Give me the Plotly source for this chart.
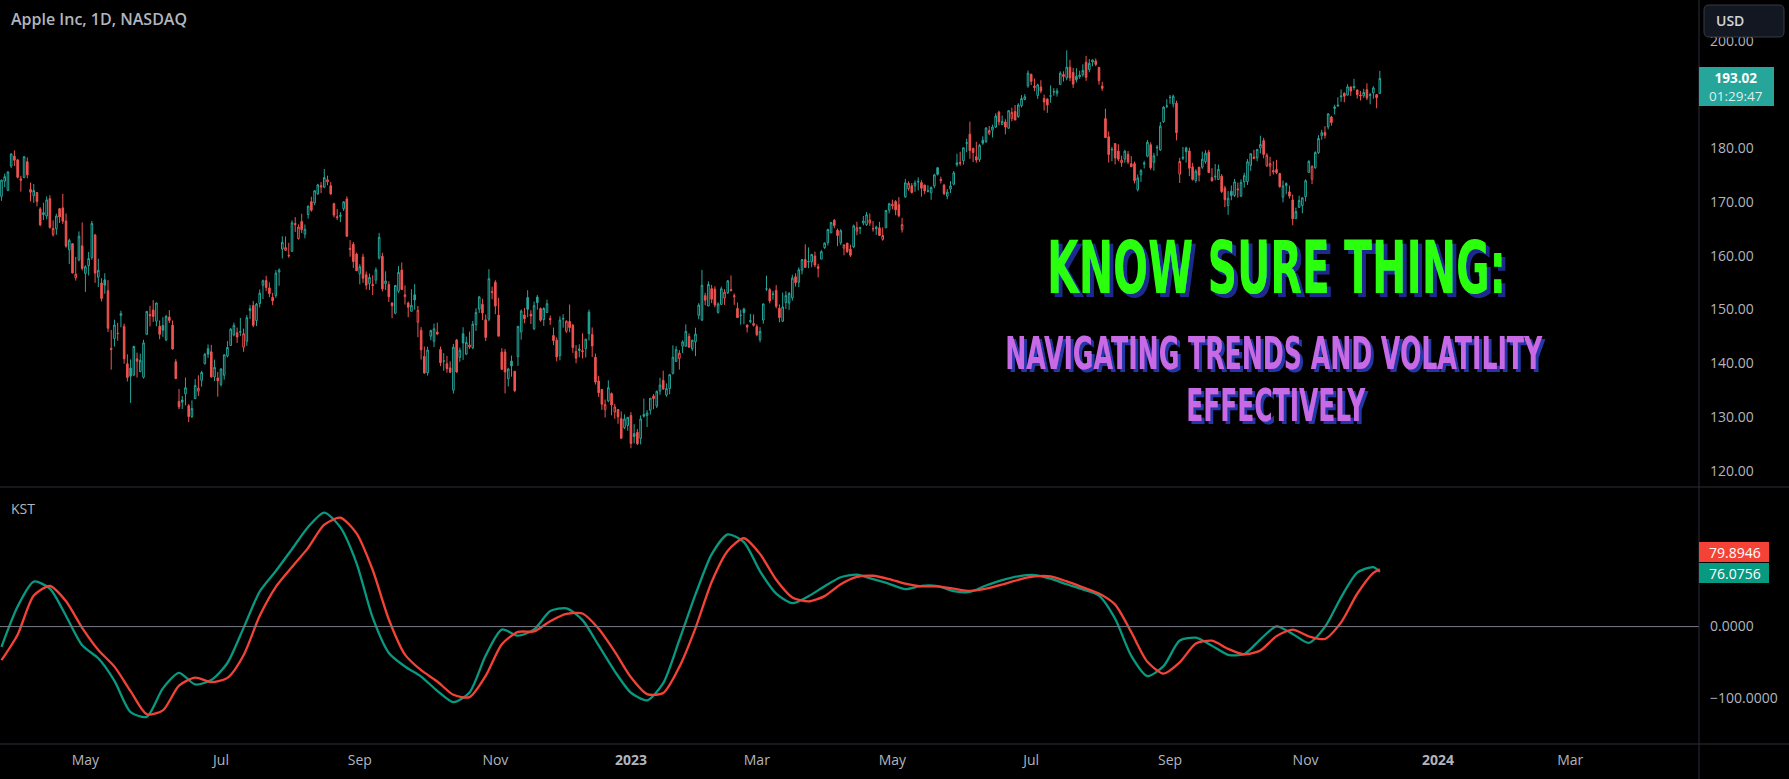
import sys
import json
import plotly.graph_objects as go
import pandas as pd

# ---------------------------------------------------------------- data
holidays = ["2022-04-15", "2022-05-30", "2022-06-20", "2022-07-04", "2022-09-05", "2022-11-24",
            "2022-12-26", "2023-01-02", "2023-01-16", "2023-02-20", "2023-04-07", "2023-05-29",
            "2023-06-19", "2023-07-04", "2023-09-04", "2023-11-23", "2023-12-25", "2024-01-01",
            "2024-01-15", "2024-02-19", "2024-03-29"]
dates = pd.bdate_range("2022-03-24", "2023-12-05", freq="C", holidays=holidays)

opens = [
    171.06, 173.88, 172.17, 176.69, 178.55, 177.84,
    174.03, 174.57, 177.50, 172.36, 171.16, 171.78, 168.71, 168.02, 167.39, 170.62, 163.92, 165.02, 168.76, 168.91, 166.46, 161.12, 162.25, 155.91, 159.25, 161.84,
    156.71, 158.15, 159.67, 163.85, 156.01, 154.93, 155.52, 153.50, 142.77, 144.59, 145.55, 148.86, 146.85, 139.88, 139.09, 137.79, 140.81, 138.43, 137.39, 145.39, 149.07,
    149.90, 147.83, 146.90, 147.03, 144.35, 148.58, 147.08, 140.28, 132.87, 133.13, 134.29, 132.08, 130.07, 133.42, 134.79, 136.82, 139.90, 142.70, 142.13, 137.46, 137.25,
    136.04, 137.77, 141.35, 143.29, 145.26, 145.67, 145.76, 142.99, 144.08, 149.78, 150.74, 147.92, 151.12, 154.50, 155.39, 154.01, 152.26, 152.58, 156.98, 161.24,
    161.01, 160.10, 160.84, 166.01, 163.21, 166.37, 164.02, 167.68, 170.06, 169.82, 171.52, 172.78, 172.77, 173.75, 173.03, 169.69, 167.08, 167.32, 168.78, 170.57, 161.15, 162.13, 160.31,
    156.64, 159.75, 156.47, 154.82, 154.64, 155.47, 159.59, 159.90, 154.79, 154.65, 151.21, 149.31, 153.40, 157.34, 152.38, 151.19, 149.66, 152.74, 147.64, 146.10, 141.28,
    138.21, 145.03, 144.07, 145.81, 142.54, 140.42, 139.90, 139.13, 134.99, 144.31, 141.07, 145.49, 141.69, 143.02, 142.87, 147.19, 150.09, 150.96, 148.07, 148.20, 153.16,
    155.08, 148.95, 142.06, 142.09, 137.11, 140.41, 138.50, 141.24, 145.82, 148.97, 152.22, 149.13, 146.43, 152.31, 150.16, 148.13, 149.45, 148.31, 145.14, 144.29, 141.40,
    148.21, 145.96, 147.77, 147.07, 142.19, 142.36, 142.34, 142.70, 149.50, 145.35, 141.11, 136.69, 135.11, 131.39, 132.98, 134.35, 130.92, 131.38, 129.67, 127.99, 128.41,
    130.28, 126.89, 127.13, 126.01, 130.47, 130.26, 131.25, 133.88, 132.03, 134.83, 136.82, 134.08, 135.28, 138.12, 140.31, 140.89, 143.17, 143.16, 144.96, 142.70,
    143.97, 148.90, 148.03, 152.57, 150.64, 153.88, 153.78, 149.46, 150.95, 152.12, 153.11, 153.51, 152.35, 150.20, 148.87, 150.09, 147.11, 147.71, 147.05,
    146.83, 144.38, 148.04, 153.79, 153.70, 152.81, 153.56, 150.21, 147.81, 151.28, 151.19, 152.16, 156.08, 155.07, 157.32, 159.30, 158.83, 158.86, 159.94, 157.97, 159.37, 161.53, 162.44,
    164.27, 166.60, 164.74, 162.43, 161.42, 162.35, 161.22, 161.63, 164.59, 165.09, 166.10, 165.80, 166.09, 165.05, 165.00, 165.19, 163.06, 165.19, 168.49,
    169.28, 170.09, 169.50, 164.89, 170.98, 172.48, 173.05, 173.02, 173.85, 173.62, 173.16, 171.99, 171.71, 173.00, 176.39, 173.98, 173.13, 171.09, 172.41, 173.32, 176.96, 177.33,
    177.70, 181.03, 182.63, 179.97, 178.44, 177.90, 181.50, 181.27, 182.80, 183.37, 183.96, 186.73, 184.41, 184.90, 183.74, 185.55, 186.83, 185.89, 187.93, 189.08, 191.63,
    193.78, 191.57, 189.84, 191.41, 189.26, 189.16, 189.68, 190.50, 190.23, 191.90, 193.35, 193.10, 195.09, 194.10, 193.41, 193.33, 193.67, 196.02, 194.67, 196.06,
    196.24, 195.04, 191.57, 185.52, 182.13, 179.69, 180.87, 179.48, 177.32, 177.97, 178.88, 177.13, 177.14, 172.30, 175.07, 177.06, 178.52, 180.67, 177.38, 180.09, 179.70, 184.94, 187.84,
    189.49, 188.28, 188.40, 175.18, 178.35, 180.07, 179.49, 176.51, 174.00, 176.48, 176.48, 177.52, 179.26, 174.55, 174.67, 174.20, 174.82, 172.62, 169.34, 172.02,
    171.22, 172.26, 171.09, 173.79, 173.80, 176.81, 178.10, 178.20, 180.07, 181.42, 176.75, 176.65, 175.58, 176.04, 175.31, 170.91, 173.05, 171.88, 170.37, 166.91, 169.02, 169.35,
    171.00, 175.52, 174.24, 176.38, 179.18, 182.35, 182.96, 183.97, 185.82, 187.70, 187.85, 189.57, 190.25, 189.89, 191.41, 191.49, 190.87, 189.92, 189.78, 190.90, 189.84,
    190.33, 189.98, 190.21,
]
highs = [
    174.14, 175.28, 175.73, 179.01, 179.61, 178.03,
    174.88, 178.49, 178.30, 173.63, 173.36, 171.78, 169.03, 169.87, 171.04, 171.27, 166.60, 167.82, 168.88, 171.53, 167.87, 163.17, 162.34, 159.79, 164.52, 166.20,
    158.23, 160.71, 166.48, 164.08, 159.44, 155.83, 156.74, 155.45, 146.20, 148.10, 147.52, 149.77, 147.36, 141.66, 140.70, 143.26, 141.97, 141.79, 144.34, 149.68, 150.66,
    151.74, 151.27, 147.97, 148.57, 149.00, 149.87, 147.95, 140.76, 135.20, 133.89, 137.34, 132.39, 133.08, 137.06, 137.76, 138.59, 141.91, 143.49, 143.42, 140.67, 138.37,
    139.04, 141.61, 144.12, 146.55, 147.55, 146.64, 148.45, 146.45, 148.95, 150.86, 151.57, 151.23, 153.72, 155.57, 156.28, 155.04, 153.09, 157.33, 157.64, 163.63,
    163.59, 162.41, 166.59, 167.19, 165.85, 167.81, 165.82, 169.34, 170.99, 172.17, 173.39, 173.71, 176.15, 174.90, 173.74, 169.86, 168.71, 168.11, 170.14, 171.05, 162.90, 162.56, 160.58,
    158.42, 160.36, 157.09, 156.67, 156.36, 157.82, 164.26, 160.54, 157.10, 155.24, 151.35, 154.56, 158.08, 158.74, 154.47, 151.47, 153.77, 154.72, 150.64, 146.72, 143.10,
    143.07, 146.22, 147.38, 147.54, 143.10, 141.89, 141.35, 140.36, 143.59, 144.52, 142.90, 146.70, 144.95, 145.89, 147.85, 150.23, 152.49, 151.99, 149.05, 157.50, 154.24,
    155.45, 152.17, 142.80, 142.67, 139.15, 141.43, 138.55, 146.87, 150.01, 150.28, 153.59, 149.87, 151.48, 152.70, 150.37, 150.42, 151.83, 148.88, 146.64, 144.81, 148.72,
    149.13, 148.00, 150.92, 147.30, 143.37, 143.52, 145.57, 144.50, 149.97, 146.66, 141.80, 137.65, 135.20, 133.25, 136.81, 134.56, 132.42, 131.41, 131.03, 130.48, 129.95,
    130.90, 128.66, 127.77, 130.29, 133.41, 131.26, 133.51, 134.26, 134.92, 137.29, 138.61, 136.25, 138.02, 143.32, 143.16, 142.43, 144.25, 147.23, 145.55, 144.34,
    146.61, 151.18, 157.38, 153.10, 155.23, 154.58, 154.33, 151.34, 154.26, 153.77, 155.50, 156.33, 153.00, 151.30, 149.95, 150.34, 147.19, 149.17, 149.08,
    147.23, 146.71, 151.11, 156.30, 154.03, 153.47, 154.54, 150.94, 153.14, 153.40, 153.25, 156.46, 156.74, 157.82, 159.40, 162.14, 161.55, 160.34, 160.77, 158.49, 161.05, 162.47, 165.00,
    166.29, 166.84, 165.05, 164.96, 162.03, 162.36, 162.06, 165.80, 166.32, 165.39, 167.41, 168.16, 167.87, 166.45, 165.60, 166.31, 165.28, 168.56, 169.85,
    170.45, 170.35, 170.92, 167.04, 174.30, 173.85, 173.54, 174.03, 174.59, 174.06, 173.21, 173.14, 172.93, 175.24, 176.39, 174.71, 173.38, 172.42, 173.90, 175.77, 178.99, 179.35,
    180.12, 181.78, 184.95, 180.12, 181.21, 180.84, 182.23, 183.89, 184.15, 184.39, 186.52, 186.99, 186.10, 185.41, 187.05, 187.56, 188.05, 188.39, 189.90, 190.07, 194.48,
    193.88, 192.98, 192.02, 192.67, 189.99, 189.30, 191.70, 191.19, 191.18, 194.32, 194.33, 198.23, 196.47, 194.97, 194.91, 194.44, 195.64, 197.20, 196.63, 196.49,
    196.73, 195.18, 192.37, 187.38, 183.13, 180.27, 180.93, 180.75, 178.62, 179.69, 179.48, 178.54, 177.51, 175.10, 176.13, 177.68, 181.55, 181.10, 179.15, 180.59, 184.90, 187.85, 189.12,
    189.92, 189.98, 188.85, 178.21, 180.24, 180.30, 180.13, 177.30, 176.10, 176.50, 179.38, 179.63, 179.70, 176.30, 177.08, 176.97, 175.20, 173.04, 172.03, 173.07,
    174.30, 173.63, 174.21, 175.45, 177.99, 179.05, 179.72, 179.85, 182.34, 181.93, 179.08, 178.42, 177.58, 177.84, 175.42, 174.01, 173.67, 173.06, 171.38, 168.96, 171.17, 170.90,
    174.23, 177.78, 176.82, 179.43, 182.44, 183.45, 184.12, 186.57, 186.03, 188.11, 189.50, 190.96, 190.38, 191.91, 191.52, 192.93, 190.90, 190.67, 191.08, 192.09, 190.32,
    191.56, 190.05, 194.40,
]
lows = [
    170.21, 172.75, 172.00, 176.34, 176.70, 174.40,
    171.94, 174.44, 174.42, 170.13, 169.85, 169.20, 165.50, 166.64, 166.77, 165.04, 163.57, 163.91, 166.10, 165.91, 161.50, 158.46, 156.72, 155.38, 158.93, 157.25,
    153.27, 156.32, 159.26, 154.95, 154.18, 151.49, 152.93, 145.81, 138.80, 143.11, 144.18, 146.68, 139.90, 136.60, 132.61, 137.65, 137.33, 138.34, 137.14, 145.26, 146.84,
    147.68, 146.86, 144.46, 144.90, 144.10, 147.46, 142.53, 137.06, 131.44, 131.48, 132.16, 129.04, 129.81, 133.32, 133.91, 135.63, 139.77, 140.97, 137.33, 136.67, 133.77,
    135.66, 136.93, 141.08, 143.28, 145.00, 143.78, 145.05, 142.12, 143.25, 148.20, 146.70, 146.91, 150.37, 151.94, 153.41, 152.28, 150.80, 152.16, 154.41, 159.50,
    160.89, 159.63, 160.75, 164.43, 163.00, 164.20, 163.25, 166.90, 168.19, 169.40, 171.35, 171.66, 172.57, 173.12, 171.31, 167.14, 166.65, 166.25, 168.35, 163.56, 159.82, 157.72, 157.14,
    154.67, 154.97, 153.69, 153.61, 152.68, 154.75, 159.30, 153.37, 153.61, 151.38, 148.37, 149.10, 153.08, 153.60, 150.91, 148.56, 149.64, 149.95, 144.84, 140.68, 138.00,
    137.69, 144.26, 143.01, 145.22, 139.45, 138.57, 138.22, 138.16, 134.37, 138.19, 140.27, 140.61, 141.50, 142.65, 142.65, 146.00, 149.36, 148.04, 144.13, 147.82, 151.92,
    149.13, 145.00, 138.75, 134.38, 135.67, 137.49, 134.59, 139.50, 144.37, 147.43, 148.56, 147.29, 146.15, 149.97, 147.72, 146.93, 149.34, 147.12, 143.38, 140.35, 140.55,
    146.61, 145.65, 145.77, 141.92, 140.00, 141.10, 140.90, 141.06, 144.24, 141.16, 136.03, 133.73, 131.32, 129.89, 132.75, 130.30, 129.64, 128.72, 125.87, 127.73, 127.43,
    124.17, 125.08, 124.76, 124.89, 129.89, 128.12, 130.46, 131.44, 131.66, 134.13, 135.03, 133.77, 134.22, 137.90, 140.30, 138.81, 141.90, 143.08, 142.85, 142.28,
    141.32, 148.17, 147.83, 150.78, 150.64, 151.17, 150.42, 149.22, 150.92, 150.86, 152.88, 153.35, 150.85, 148.41, 147.16, 147.24, 145.72, 147.45, 146.83,
    145.01, 143.90, 147.33, 153.46, 151.13, 151.83, 150.23, 147.61, 147.70, 150.10, 149.92, 151.64, 154.28, 154.15, 156.54, 157.81, 157.68, 157.85, 157.87, 155.98, 159.35, 161.27, 161.91,
    164.22, 165.11, 161.80, 162.00, 160.08, 160.51, 159.78, 161.42, 163.82, 164.03, 165.65, 165.54, 165.56, 164.49, 163.89, 163.73, 162.80, 165.19, 167.88,
    168.64, 167.54, 167.16, 164.31, 170.76, 172.11, 171.60, 171.90, 172.17, 171.00, 171.47, 171.80, 170.42, 172.58, 174.94, 173.45, 171.28, 170.52, 171.69, 173.11, 176.57, 176.76,
    176.93, 179.26, 178.04, 177.43, 177.32, 177.46, 180.63, 180.97, 182.44, 182.02, 183.78, 184.27, 184.41, 182.59, 183.67, 185.01, 185.23, 185.67, 187.60, 188.94, 191.26,
    191.76, 190.62, 189.20, 190.24, 187.04, 186.60, 188.47, 189.78, 189.63, 191.81, 192.42, 192.65, 192.50, 191.23, 192.25, 192.92, 193.32, 192.55, 194.14, 195.26,
    195.28, 191.85, 190.69, 181.92, 177.35, 177.58, 177.01, 177.60, 176.55, 177.31, 177.05, 176.50, 173.48, 171.96, 173.74, 176.25, 178.33, 176.01, 175.82, 178.55, 179.50, 184.74, 187.48,
    188.28, 187.61, 181.47, 173.54, 177.79, 177.34, 174.82, 173.98, 173.58, 173.82, 176.17, 177.13, 175.40, 173.86, 174.05, 174.15, 171.66, 169.05, 167.62, 170.34,
    170.93, 170.82, 170.97, 172.68, 173.18, 175.80, 177.95, 177.60, 179.04, 178.14, 176.51, 174.80, 175.11, 175.19, 172.64, 169.93, 171.45, 170.65, 165.67, 166.83, 168.87, 167.90,
    170.12, 175.46, 173.35, 176.21, 178.97, 181.59, 181.81, 183.53, 184.21, 186.30, 187.78, 188.65, 188.57, 189.88, 189.74, 190.83, 189.25, 188.90, 189.40, 188.97, 188.19,
    189.23, 187.45, 190.18,
]
closes = [
    174.07, 174.72, 175.60, 178.96, 177.77, 174.61,
    174.31, 178.44, 175.06, 171.83, 172.14, 170.09, 165.75, 167.66, 170.40, 165.29, 165.07, 167.40, 167.23, 166.42, 161.79, 162.88, 156.80, 156.57, 163.64, 157.65,
    157.96, 159.48, 166.02, 156.77, 157.28, 152.06, 154.51, 146.50, 142.56, 147.11, 145.54, 149.24, 140.82, 137.35, 137.59, 143.11, 140.36, 140.52, 143.78, 149.64, 148.84,
    148.71, 151.21, 145.38, 146.14, 148.71, 147.96, 142.64, 137.13, 131.88, 132.76, 135.43, 130.06, 131.56, 135.87, 135.35, 138.27, 141.66, 141.66, 137.44, 139.23, 136.72,
    138.93, 141.56, 142.92, 146.35, 147.04, 144.87, 145.86, 145.49, 148.47, 150.17, 147.07, 151.00, 153.04, 155.35, 154.09, 152.95, 151.60, 156.79, 157.35, 162.51,
    161.51, 160.01, 166.13, 165.81, 165.35, 164.87, 164.92, 169.24, 168.49, 172.10, 173.19, 173.03, 174.55, 174.15, 171.52, 167.57, 167.23, 167.53, 170.03, 163.62, 161.38, 158.91, 157.22,
    157.96, 155.81, 154.53, 155.96, 154.46, 157.37, 163.43, 153.84, 155.31, 152.37, 150.70, 154.48, 156.90, 153.72, 152.74, 150.43, 150.77, 151.76, 149.84, 142.48, 138.20,
    142.45, 146.10, 146.40, 145.43, 140.09, 140.42, 138.98, 138.34, 142.99, 138.38, 142.41, 143.75, 143.86, 143.39, 147.27, 149.45, 152.34, 149.35, 144.80, 155.74, 153.34,
    150.65, 145.03, 138.88, 138.38, 138.92, 139.50, 134.87, 146.87, 149.70, 148.28, 150.04, 148.79, 150.72, 151.29, 148.01, 150.18, 151.07, 148.11, 144.22, 141.17, 148.03,
    148.31, 147.81, 146.63, 142.91, 140.94, 142.65, 142.16, 144.49, 145.47, 143.21, 136.50, 134.51, 132.37, 132.30, 135.45, 132.23, 131.86, 130.03, 126.04, 129.61, 129.93,
    125.07, 126.36, 125.02, 129.62, 130.15, 130.73, 133.49, 133.41, 134.76, 135.94, 135.21, 135.27, 137.87, 141.11, 142.53, 141.86, 143.96, 145.93, 143.00, 144.29,
    145.43, 150.82, 154.50, 151.73, 154.65, 151.92, 150.87, 151.01, 153.85, 153.20, 155.33, 153.71, 152.55, 148.48, 148.91, 149.40, 146.71, 147.92, 147.41,
    145.31, 145.91, 151.03, 153.83, 151.60, 152.87, 150.59, 148.50, 150.47, 152.59, 152.99, 155.85, 155.00, 157.40, 159.28, 157.83, 158.93, 160.25, 158.28, 157.65, 160.77, 162.36, 164.90,
    166.17, 165.63, 163.76, 164.66, 162.03, 160.80, 160.10, 165.56, 165.21, 165.23, 166.47, 167.63, 166.65, 165.02, 165.33, 163.77, 163.76, 168.41, 169.68,
    169.59, 168.54, 167.45, 165.79, 173.57, 173.50, 171.77, 173.56, 173.75, 172.57, 172.07, 172.07, 172.69, 175.05, 175.16, 174.20, 171.56, 171.84, 172.99, 175.43, 177.30, 177.25,
    180.09, 180.95, 179.58, 179.21, 177.82, 180.57, 180.96, 183.79, 183.31, 183.95, 186.01, 184.92, 185.01, 183.96, 187.00, 186.68, 185.27, 188.06, 189.25, 189.59, 193.97,
    192.46, 191.33, 191.81, 190.68, 188.61, 188.08, 189.77, 190.54, 190.69, 193.99, 193.73, 195.10, 193.13, 191.94, 192.75, 193.62, 194.50, 193.22, 195.83, 196.45,
    195.61, 192.58, 191.17, 181.99, 178.85, 179.80, 178.19, 177.97, 177.79, 179.46, 177.45, 176.57, 174.00, 174.49, 175.84, 177.23, 181.12, 176.38, 178.61, 180.19, 184.12, 187.65, 187.87,
    189.46, 189.70, 182.91, 177.56, 178.18, 179.36, 176.30, 174.21, 175.74, 175.01, 177.97, 179.07, 175.49, 173.93, 174.79, 176.08, 171.96, 170.43, 170.69, 171.21,
    173.75, 172.40, 173.66, 174.91, 177.49, 178.99, 178.39, 179.80, 180.71, 178.85, 178.72, 177.15, 175.84, 175.46, 172.88, 173.00, 173.44, 171.10, 166.89, 168.22, 170.29, 170.77,
    173.97, 177.57, 176.65, 179.23, 181.82, 182.89, 182.41, 186.40, 184.80, 187.44, 188.01, 189.71, 189.69, 191.45, 190.64, 191.31, 189.97, 189.79, 190.40, 189.37, 189.95,
    191.24, 189.43, 193.02,
]

# KST (teal) and its signal (red), read every 5th session plus the last one
kst_step = 5
kst_line = [
    -28.4, 27.9, 62.7, 52.9, 14.8, -26.1, -44.3, -75.8, -119.3, -125.9,
    -86.2, -64.6, -80.7, -74.5, -50.8, -1.8, 48.9, 77.5, 108.1, 139.0,
    159.0, 138.3, 88.3, 12.4, -36.8, -55.7, -69.8, -89.6, -105.4, -92.0,
    -40.4, -4.2, -12.7, -4.1, 21.6, 25.5, 9.0, -26.3, -62.4, -92.3,
    -102.8, -78.9, -18.7, 44.8, 100.8, 128.5, 117.8, 77.1, 46.0, 32.7,
    42.3, 56.3, 68.8, 72.3, 66.1, 59.6, 52.2, 56.8, 56.4, 49.5,
    48.3, 57.3, 64.8, 70.0, 71.9, 66.8, 59.0, 51.7, 43.3, 10.9,
    -40.8, -69.0, -55.2, -19.5, -15.5, -26.7, -39.4, -38.6, -17.7, 0.4,
    -10.3, -22.7, -0.4, 40.8, 75.3, 83.0, 76.0756,
]
kst_signal = [
    -46.9, -11.3, 43.3, 56.6, 35.3, -1.8, -32.7, -55.9, -90.1, -122.3,
    -116.9, -82.4, -71.2, -77.5, -71.6, -39.9, 15.0, 55.5, 83.2, 109.8,
    142.1, 151.8, 130.1, 78.9, 9.9, -39.1, -60.9, -76.6, -95.2, -98.4,
    -68.8, -24.6, -7.5, -6.7, 7.5, 17.6, 18.3, -3.0, -35.0, -70.8,
    -94.2, -92.6, -56.2, -2.1, 62.1, 105.7, 123.2, 101.2, 65.4, 40.7,
    35.1, 42.5, 59.1, 69.4, 70.9, 66.3, 59.8, 56.1, 56.1, 52.8,
    49.8, 52.9, 58.7, 65.3, 69.9, 70.0, 63.0, 54.7, 46.1, 30.6,
    -7.8, -49.2, -65.6, -49.9, -23.6, -19.7, -31.1, -38.9, -33.3, -13.3,
    -4.2, -13.6, -17.3, 5.8, 45.8, 74.9, 79.8946,
]

month_ticks = ["2022-05-02", "2022-07-01", "2022-09-01", "2022-11-01", "2023-01-03", "2023-03-01",
               "2023-05-01", "2023-07-03", "2023-09-01", "2023-11-01", "2024-01-02", "2024-03-01"]
month_labels = ["May", "Jul", "Sep", "Nov", "<b>2023</b>", "Mar",
                "May", "Jul", "Sep", "Nov", "<b>2024</b>", "Mar"]
price_ticks = [120, 130, 140, 150, 160, 170, 180, 200]
price_labels = ["120.00", "130.00", "140.00", "150.00", "160.00", "170.00", "180.00", "200.00"]
kst_ticks = [-100, 0]
kst_labels = ["\u2212100.0000", "0.0000"]

last_price_text = ["193.02", "01:29:47"]
kst_last_text = ["79.8946", "76.0756"]
headline = "KNOW SURE THING:"
subline = ["NAVIGATING TRENDS AND VOLATILITY", "EFFECTIVELY"]

# ---------------------------------------------------------------- style
BG = "#000000"
UP = "#26a69a"
DOWN = "#ef5350"
KST_C = "#089981"
SIG_C = "#f44336"
TXT = "#b2b5be"
SEP = "#2a2e39"
FONT = "Open Sans, Roboto, DejaVu Sans, sans-serif"
HEAD = "DejaVu Sans, sans-serif"

W, H = 1789, 779
PLOT_W, PLOT_H = 1699, 744
PANE_Y = 487


def px(x):
    return x / PLOT_W


def py(y):
    return (PLOT_H - y) / PLOT_H


n = min(len(dates), len(opens), len(highs), len(lows), len(closes))
if not (len(dates) == len(opens) == len(highs) == len(lows) == len(closes)):
    print("length mismatch", len(dates), len(opens), len(highs), len(lows), len(closes), file=sys.stderr)
dates = dates[:n]

prev_close = [opens[0]] + closes[:n - 1]
up_idx = [i for i in range(n) if closes[i] >= prev_close[i]]
dn_idx = [i for i in range(n) if closes[i] < prev_close[i]]

fig = go.Figure()


def candle(idx, color, name):
    return go.Candlestick(
        x=[dates[i] for i in idx],
        open=[opens[i] for i in idx],
        high=[highs[i] for i in idx],
        low=[lows[i] for i in idx],
        close=[closes[i] for i in idx],
        increasing=dict(line=dict(color=color, width=1), fillcolor="rgba(0,0,0,0)"),
        decreasing=dict(line=dict(color=color, width=1), fillcolor=color),
        whiskerwidth=0,
        name=name,
        showlegend=False,
        hoverinfo="skip",
        xaxis="x", yaxis="y",
    )


fig.add_trace(candle(up_idx, UP, "up"))
fig.add_trace(candle(dn_idx, DOWN, "down"))

kst_idx = list(range(0, n, kst_step))
if kst_idx[-1] != n - 1:
    kst_idx.append(n - 1)
kst_dates = [dates[i] for i in kst_idx]

fig.add_trace(go.Scatter(x=kst_dates, y=kst_line[:len(kst_dates)], mode="lines",
                         line=dict(color=KST_C, width=2.3, shape="spline", smoothing=0.7),
                         xaxis="x2", yaxis="y2", hoverinfo="skip", showlegend=False))
fig.add_trace(go.Scatter(x=kst_dates, y=kst_signal[:len(kst_dates)], mode="lines",
                         line=dict(color=SIG_C, width=2.3, shape="spline", smoothing=0.7),
                         xaxis="x2", yaxis="y2", hoverinfo="skip", showlegend=False))

rb = [dict(bounds=["sat", "mon"]), dict(values=holidays)]
x_range = ["2022-03-23 13:00", "2024-04-26 21:00"]
split = py(PANE_Y)

fig.update_layout(
    width=W, height=H,
    paper_bgcolor=BG, plot_bgcolor=BG,
    margin=dict(l=0, r=W - PLOT_W, t=0, b=H - PLOT_H),
    font=dict(family=FONT, color=TXT, size=14),
    hovermode=False,
    showlegend=False,
    xaxis=dict(domain=[0, 1], anchor="y", range=x_range, rangebreaks=rb,
               rangeslider=dict(visible=False), showgrid=False, zeroline=False,
               showticklabels=False, ticks="", showline=False),
    xaxis2=dict(domain=[0, 1], anchor="y2", matches="x", range=x_range, rangebreaks=rb,
                showgrid=False, zeroline=False, showline=False, ticks="",
                tickmode="array", tickvals=month_ticks, ticktext=month_labels,
                tickfont=dict(family=FONT, size=14, color=TXT), ticklabelstandoff=6),
    yaxis=dict(domain=[split, 1], anchor="x", side="right", range=[116.96, 207.6],
               showgrid=False, zeroline=False, showline=False, ticks="",
               tickmode="array", tickvals=price_ticks, ticktext=price_labels,
               tickfont=dict(family=FONT, size=14, color=TXT), ticklabelstandoff=10),
    yaxis2=dict(domain=[0, split], anchor="x2", side="right", range=[-163.8, 194.7],
                showgrid=False, zeroline=False, showline=False, ticks="",
                tickmode="array", tickvals=kst_ticks, ticktext=kst_labels,
                tickfont=dict(family=FONT, size=14, color=TXT), ticklabelstandoff=10),
)

XR = W / PLOT_W
shapes = [
    dict(type="line", xref="paper", yref="y2", x0=0, x1=1, y0=0, y1=0,
         line=dict(color="#787b86", width=1)),
    dict(type="line", xref="paper", yref="paper", x0=0, x1=XR, y0=split, y1=split,
         line=dict(color=SEP, width=1)),
    dict(type="line", xref="paper", yref="paper", x0=0, x1=XR, y0=0, y1=0,
         line=dict(color=SEP, width=1)),
    dict(type="line", xref="paper", yref="paper", x0=1, x1=1, y0=py(H), y1=1,
         line=dict(color=SEP, width=1)),
    dict(type="rect", xref="paper", yref="paper", x0=px(1699), x1=px(1774), y0=py(106), y1=py(67),
         fillcolor=UP, line=dict(width=0)),
    dict(type="rect", xref="paper", yref="paper", x0=px(1699), x1=px(1769), y0=py(562), y1=py(542),
         fillcolor=SIG_C, line=dict(width=0)),
    dict(type="rect", xref="paper", yref="paper", x0=px(1699), x1=px(1769), y0=py(583), y1=py(563),
         fillcolor=KST_C, line=dict(width=0)),
]
bx0, bx1, by0, by1, r = 1704, 1784, 5, 37, 5
path = (f"M {px(bx0 + r)},{py(by0)} L {px(bx1 - r)},{py(by0)} Q {px(bx1)},{py(by0)} {px(bx1)},{py(by0 + r)} "
        f"L {px(bx1)},{py(by1 - r)} Q {px(bx1)},{py(by1)} {px(bx1 - r)},{py(by1)} "
        f"L {px(bx0 + r)},{py(by1)} Q {px(bx0)},{py(by1)} {px(bx0)},{py(by1 - r)} "
        f"L {px(bx0)},{py(by0 + r)} Q {px(bx0)},{py(by0)} {px(bx0 + r)},{py(by0)} Z")
shapes.append(dict(type="path", xref="paper", yref="paper", path=path,
                   fillcolor="#131722", line=dict(color="#363a45", width=1)))
fig.update_layout(shapes=shapes)


def ann(text, x, y, size, color, xanchor="left", weight=400, family=FONT):
    return dict(text=text, x=px(x), y=py(y), xref="paper", yref="paper", showarrow=False,
                xanchor=xanchor, yanchor="middle",
                font=dict(family=family, size=size, color=color, weight=weight))


annotations = [
    ann("Apple Inc, 1D, NASDAQ", 9, 19, 16, TXT, weight=600),
    ann("KST", 9, 509, 14, TXT),
    ann("USD", 1714, 21, 14, "#d1d4dc", weight=600),
    ann(f"<b>{last_price_text[0]}</b><br><span style='color:rgba(255,255,255,0.85)'>{last_price_text[1]}</span>",
        1707, 87, 13.5, "#ffffff"),
    ann(kst_last_text[0], 1707, 552, 14, "#ffffff"),
    ann(kst_last_text[1], 1707, 573, 14, "#ffffff"),
    ann(headline, 1276, 268, 41, "#2bff0a", xanchor="center", weight=700, family=HEAD),
    ann(subline[0], 1274, 353, 25, "#c86ae6", xanchor="center", weight=700, family=HEAD),
    ann(subline[1], 1275.5, 405, 25, "#c86ae6", xanchor="center", weight=700, family=HEAD),
]
fig.update_layout(annotations=annotations)

# headline styling: exact width, taller condensed glyphs, blue drop shadow
head_specs = {"6": [459, 1.77, "shG"], "7": [537, 1.76, "shP"], "8": [179, 1.76, "shP"]}
post_js = """
document.body.style.margin = '0';
document.body.style.background = '#000';
var gd = document.getElementById('{plot_id}');
var NS = 'http://www.w3.org/2000/svg';
var holder = document.createElementNS(NS, 'svg');
holder.setAttribute('width', '0'); holder.setAttribute('height', '0');
holder.style.position = 'absolute'; holder.style.left = '0'; holder.style.top = '0';
holder.innerHTML = '<defs>' +
  '<filter id="shG" x="-10%" y="-20%" width="120%" height="140%"><feDropShadow dx="4" dy="4" stdDeviation="0" flood-color="#1c2b8e" flood-opacity="1"/></filter>' +
  '<filter id="shP" x="-10%" y="-20%" width="120%" height="140%"><feDropShadow dx="3" dy="3" stdDeviation="0" flood-color="#2438a6" flood-opacity="1"/></filter>' +
  '</defs>';
document.body.appendChild(holder);
var specs = SPECS;
gd.querySelectorAll('g.annotation').forEach(function (g) {
  var s = specs[g.getAttribute('data-index')];
  if (!s) return;
  var t = g.querySelector('text.annotation-text');
  if (!t) return;
  t.setAttribute('textLength', s[0]);
  t.setAttribute('lengthAdjust', 'spacingAndGlyphs');
  t.style.transformBox = 'fill-box';
  t.style.transformOrigin = 'center';
  t.style.transform = 'scaleY(' + s[1] + ')';
  t.parentNode.style.filter = 'url(#' + s[2] + ')';
});
""".replace("SPECS", json.dumps(head_specs))

fig.write_html("out.html", config={"displayModeBar": False}, post_script=post_js)
